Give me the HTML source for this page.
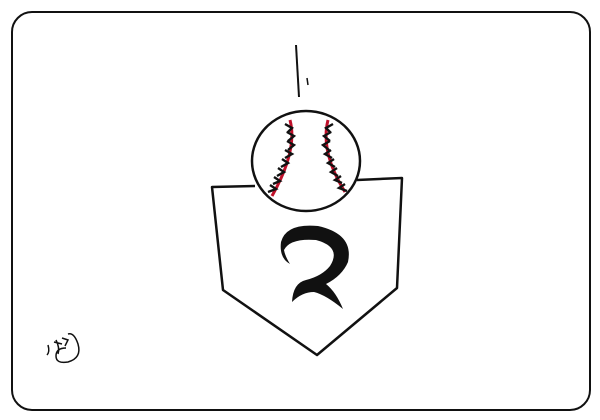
<!DOCTYPE html>
<html><head><style>html,body{margin:0;padding:0;background:#fff;width:600px;height:420px;overflow:hidden}</style></head>
<body>
<svg width="600" height="420" viewBox="0 0 600 420" xmlns="http://www.w3.org/2000/svg">
<rect x="12" y="12" width="578" height="398" rx="20" fill="#fff" stroke="#111" stroke-width="2"/>
<path d="M296 45 L299 97" stroke="#111" stroke-width="2" fill="none"/>
<path d="M307 78 L308 85" stroke="#111" stroke-width="1.5" fill="none"/>
<path d="M255 186 L212 187 L223 290 L317 355 L397 288 L402 178 L357 180" stroke="#111" stroke-width="2.5" fill="none" stroke-linejoin="round"/>
<ellipse cx="306" cy="161" rx="54" ry="50" fill="#fff" stroke="#111" stroke-width="2.5"/>
<g stroke="#c0102a" stroke-width="3" fill="none">
<path d="M290 120 Q298 150 272 196"/>
<path d="M328 120 Q320 152 345 192"/>
</g>
<g stroke="#111" stroke-width="2.4" fill="none">
<path d="M285 124 l7 4 l-5 5 M287 132 l7 4 l-6 5 M287 141 l7 4 l-6 5 M285 150 l7 4 l-7 4 M282 159 l6 4 l-7 4 M278 168 l6 4 l-7 4 M274 177 l6 4 l-7 3 M270 185 l6 4 l-8 3"/>
<path d="M333 124 l-7 4 l5 5 M331 132 l-7 4 l6 5 M330 141 l-7 4 l6 5 M331 150 l-6 4 l7 4 M334 159 l-6 4 l7 4 M337 168 l-6 4 l7 4 M341 176 l-6 4 l7 3 M345 184 l-6 4 l8 3"/>
</g>
<path d="M284 250 Q290 238 316 240 Q342 247 330 266 Q322 276 306 280 Q293 283 292 302 Q302 292 314 292 Q326 295 343 309 Q336 292 326 284 Q342 276 348 262 Q354 234 318 226 Q286 223 281 242 Q279 258 290 264 Q285 256 284 250 Z" fill="#111"/>
<path d="M48 345 Q50 352 47 355 M54 342 l8 2 M56 340 q4 8 2 14 M62 338 l6 2 l-3 6 M68 334 q6 -2 10 10 q4 14 -10 18 q-12 2 -12 -6 q0 -8 10 -8" stroke="#111" stroke-width="1.5" fill="none"/>
</svg>
</body></html>
